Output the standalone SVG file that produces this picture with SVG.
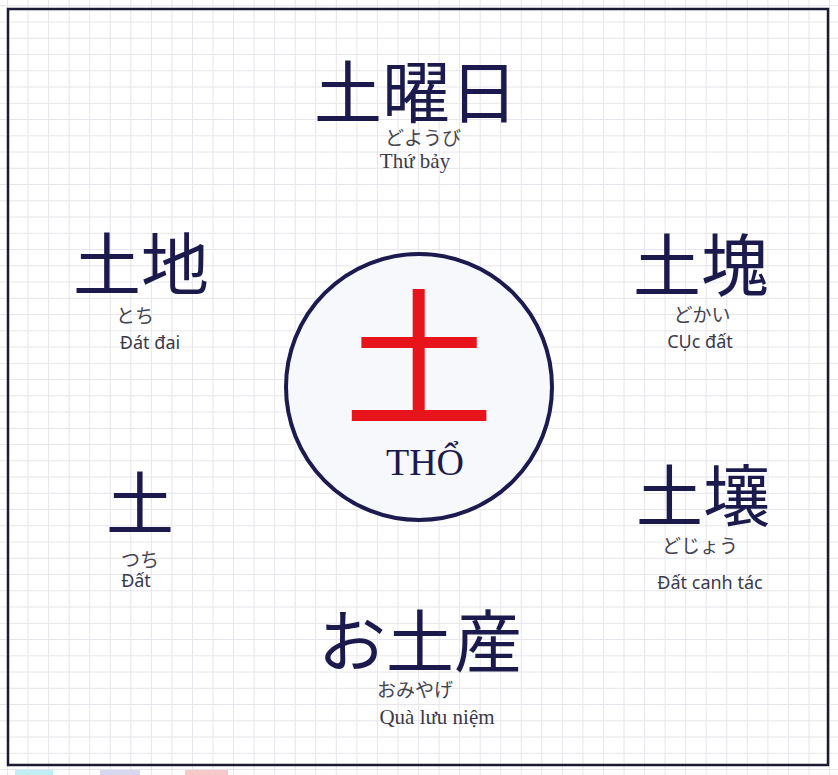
<svg xmlns="http://www.w3.org/2000/svg" width="838" height="775" viewBox="0 0 838 775">
<style>
.grid{stroke:#e6e6ec;stroke-width:1;fill:none}
.kanji{font-family:"Noto Sans CJK JP","Noto Sans CJK SC",sans-serif;fill:#1c1a4d;text-anchor:middle}
.kana{font-family:"Noto Sans CJK JP","Noto Sans CJK SC",sans-serif;fill:#44444f;text-anchor:middle;font-size:19px}
.vn{font-family:"Liberation Serif","DejaVu Serif",serif;fill:#3a3a4a;text-anchor:middle;font-size:21px}
.vns{font-family:"Noto Sans","DejaVu Sans",sans-serif;fill:#3a3a4a;text-anchor:middle;font-size:18px}
</style>
<rect x="0" y="0" width="838" height="775" fill="#ffffff"/>
<g id="grid" class="grid">
<path d="M7.5 0V775M28 0V775M48.6 0V775M69.2 0V775M89.7 0V775M110.3 0V775M130.8 0V775M151.4 0V775M171.9 0V775M192.5 0V775M213 0V775M233.6 0V775M254.1 0V775M274.7 0V775M295.2 0V775M315.8 0V775M336.3 0V775M356.9 0V775M377.4 0V775M398 0V775M418.5 0V775M439.1 0V775M459.6 0V775M480.2 0V775M500.7 0V775M521.3 0V775M541.8 0V775M562.4 0V775M582.9 0V775M603.5 0V775M624 0V775M644.6 0V775M665.1 0V775M685.7 0V775M706.2 0V775M726.8 0V775M747.3 0V775M767.9 0V775M788.4 0V775M809 0V775M829.5 0V775"/>
<path d="M0 5.8H838M0 22H838M0 38.3H838M0 54.5H838M0 70.8H838M0 87H838M0 103.3H838M0 119.5H838M0 135.8H838M0 152H838M0 168.3H838M0 184.5H838M0 200.8H838M0 217H838M0 233.3H838M0 249.5H838M0 265.8H838M0 282H838M0 298.3H838M0 314.5H838M0 330.8H838M0 347H838M0 363.3H838M0 379.5H838M0 395.8H838M0 412H838M0 428.3H838M0 444.5H838M0 460.8H838M0 477H838M0 493.3H838M0 509.5H838M0 525.8H838M0 542H838M0 558.3H838M0 574.5H838M0 590.8H838M0 607H838M0 623.3H838M0 639.5H838M0 655.8H838M0 672H838M0 688.3H838M0 704.5H838M0 720.8H838M0 737H838M0 753.3H838M0 769.5H838"/>
</g>
<rect x="8" y="9" width="820" height="756" fill="none" stroke="#1a1a33" stroke-width="2.5"/>
<rect x="15" y="770" width="38" height="8" fill="#bfeef5"/>
<rect x="100" y="770" width="40" height="8" fill="#d8d8f0"/>
<rect x="185" y="770" width="43" height="8" fill="#f7c8c8"/>
<g id="center">
<circle cx="419" cy="387" r="133" fill="#f7f8fb" stroke="#1c1a4f" stroke-width="4"/>
<text x="419" y="415" class="kanji" font-size="150" style="fill:#e8141b">土</text>
<text x="425" y="475" font-family="Liberation Serif, serif" font-size="38" fill="#1c1a4d" text-anchor="middle">THỔ</text>
</g>
<g id="doyoubi">
<text x="416" y="118" class="kanji" font-size="68">土曜日</text>
<text x="423" y="145" class="kana" font-size="20">どようび</text>
<text x="415" y="168" class="vn">Thứ bảy</text>
</g>
<g id="tochi">
<text x="141" y="290" class="kanji" font-size="68">土地</text>
<text x="135" y="323" class="kana">とち</text>
<text x="150" y="349" class="vns">Đát đai</text>
</g>
<g id="dokai">
<text x="701" y="291" class="kanji" font-size="68">土塊</text>
<text x="702" y="322" class="kana">どかい</text>
<text x="700" y="348" class="vns">CỤc đất</text>
</g>
<g id="tsuchi">
<text x="140" y="529" class="kanji" font-size="68">土</text>
<text x="140" y="567" class="kana">つち</text>
<text x="136" y="587" class="vns">Đất</text>
</g>
<g id="dojou">
<text x="703" y="521" class="kanji" font-size="67">土壤</text>
<text x="700" y="553" class="kana">どじょう</text>
<text x="710" y="589" class="vns">Đất canh tác</text>
</g>
<g id="omiyage">
<text x="420" y="667" class="kanji" font-size="68">お土産</text>
<text x="415" y="697" class="kana">おみやげ</text>
<text x="437" y="724" class="vn">Quà lưu niệm</text>
</g>
<g id="connectors"/>
</svg>
